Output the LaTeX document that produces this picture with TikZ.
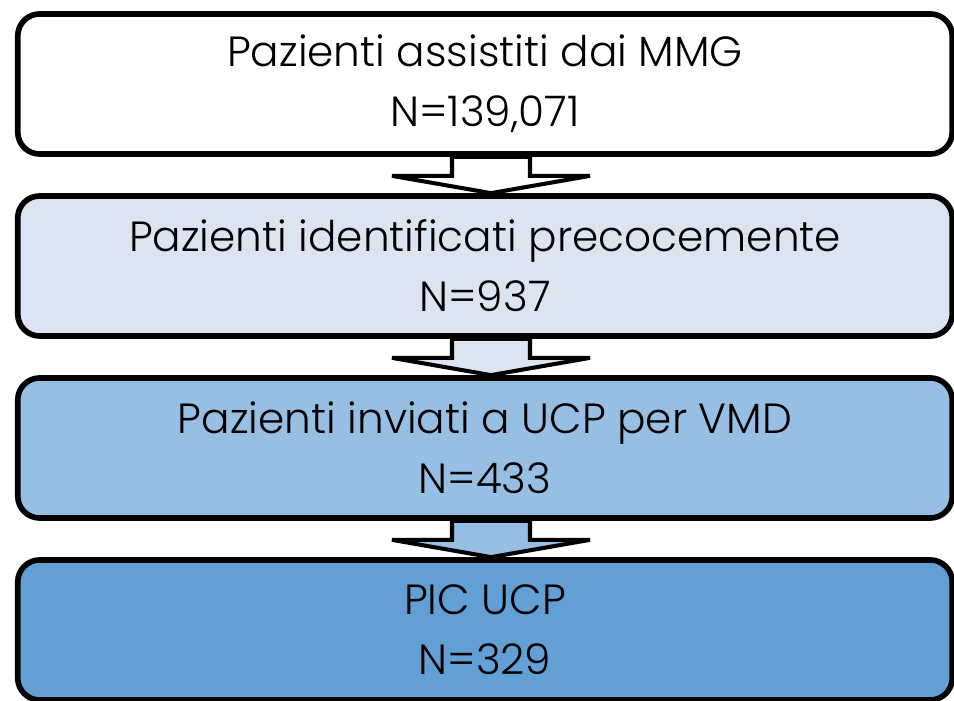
\documentclass[tikz,border=0pt]{standalone}
\usepackage{fontspec}
\setmainfont{Poppins}[UprightFont={* Light}]
\usetikzlibrary{calc}

\definecolor{stageA}{RGB}{255,255,255}
\definecolor{stageB}{RGB}{219,228,241}
\definecolor{stageC}{RGB}{151,190,227}
\definecolor{stageD}{RGB}{98,159,213}

\tikzset{
    stage/.style={draw, line width=1.6pt, rounded corners=0.22cm, minimum width=9.34cm,
        minimum height=1.4cm, align=center, font=\fontsize{12}{17}\selectfont},
    flow/.style={draw, line width=1.15pt, line join=miter}
}

\begin{document}
\begin{tikzpicture}[x=0.01cm, y=-0.01cm]
    \useasboundingbox (0,0) rectangle (954,701);

    \node[stage, fill=stageA] (s1) at (485, 84) {Pazienti assistiti dai MMG\\N=139,071};
    \node[stage, fill=stageB] (s2) at (485, 266) {Pazienti identificati precocemente\\N=937};
    \node[stage, fill=stageC] (s3) at (485, 448) {Pazienti inviati a UCP per VMD\\N=433};
    \node[stage, fill=stageD] (s4) at (485, 630) {PIC UCP\\N=329};

    % block arrows between the stages
    \draw[flow, fill=stageA] ($(s1.south)+(-33,0)$) -- ++(0,19) -- ++(-60,0) -- ($(s2.north)+(6,0)$)
        -- ($(s1.south)+(105,19)$) -- ++(-60,0) -- ($(s1.south)+(45,0)$) -- cycle;
    \draw[flow, fill=stageB] ($(s2.south)+(-33,0)$) -- ++(0,19) -- ++(-60,0) -- ($(s3.north)+(6,0)$)
        -- ($(s2.south)+(105,19)$) -- ++(-60,0) -- ($(s2.south)+(45,0)$) -- cycle;
    \draw[flow, fill=stageC] ($(s3.south)+(-33,0)$) -- ++(0,19) -- ++(-60,0) -- ($(s4.north)+(6,0)$)
        -- ($(s3.south)+(105,19)$) -- ++(-60,0) -- ($(s3.south)+(45,0)$) -- cycle;
\end{tikzpicture}
\end{document}
